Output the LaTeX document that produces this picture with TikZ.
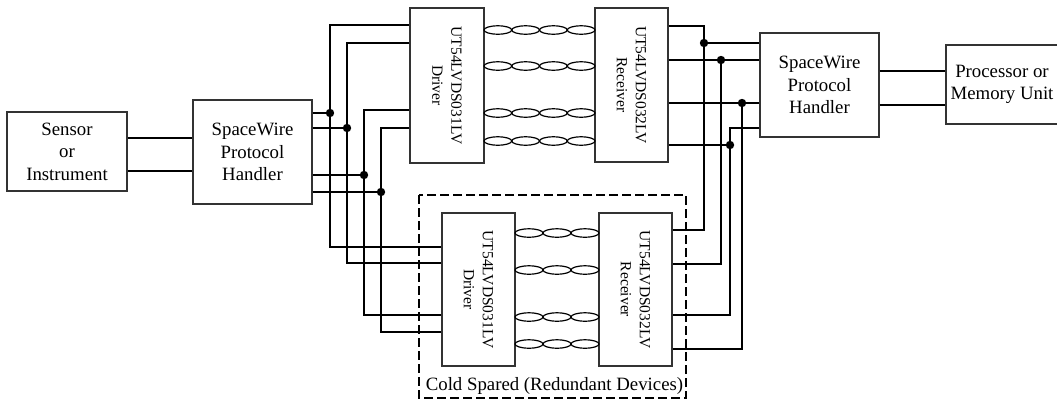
\documentclass[tikz,border=0pt]{standalone}
\usepackage{fontspec}
\setmainfont{Liberation Serif}
\begin{document}
\begin{tikzpicture}[x=1pt,y=-1pt,
  box/.style={draw=black!80, line width=1.1pt, inner sep=0pt, align=center, font=\fontsize{18.8}{22.5}\selectfont},
  chip/.style={draw=black!80, line width=1.1pt, inner sep=0pt},
  rlbl/.style={rotate=-90, align=center, inner sep=0pt, font=\fontsize{15.5}{19}\selectfont},
  wire/.style={line width=1.4pt, black},
  jdot/.style={fill=black},
  twist/.style={line width=1.2pt, black},
  spare/.style={line width=2.3pt, dash pattern=on 9pt off 4pt}]
\useasboundingbox (0,0) rectangle (1057,400);

% blocks
\node[box, minimum width=120pt, minimum height=79pt] (sensor) at (67,151.5) {Sensor\\or\\Instrument};
\node[box, minimum width=119pt, minimum height=104pt] (lh) at (252.5,152) {SpaceWire\\Protocol\\Handler};
\node[box, minimum width=119pt, minimum height=104pt] (rh) at (819.5,85) {SpaceWire\\Protocol\\Handler};
\node[box, minimum width=112pt, minimum height=79pt] (proc) at (1002,84.5) {Processor or\\Memory Unit};

\node[chip, minimum width=74pt, minimum height=155pt] (td) at (447,85.5) {};
\node[rlbl] (tdt) at (td.center) {UT54LVDS031LV\\Driver};
\node[chip, minimum width=73pt, minimum height=154pt] (tr) at (631.5,85) {};
\node[rlbl] (trt) at (tr.center) {UT54LVDS032LV\\Receiver};
\node[chip, minimum width=73pt, minimum height=153pt] (bd) at (478.5,289.5) {};
\node[rlbl] (bdt) at (bd.center) {UT54LVDS031LV\\Driver};
\node[chip, minimum width=73pt, minimum height=153pt] (br) at (635.5,289.5) {};
\node[rlbl] (brt) at (br.center) {UT54LVDS032LV\\Receiver};

% cold spare frame
\draw[spare] (419,195) rectangle (686,398);
\node[font=\fontsize{18.8}{22}\selectfont, inner sep=0pt] (cold) at (554.5,385.5) {Cold Spared (Redundant Devices)};

% twisted pairs
\foreach \yy in {30,66,113,141}{
  \foreach \i in {0,1,2,3}{
    \draw[twist] ({484+13.875*(2*\i+1)},\yy) ellipse [x radius=13.875pt, y radius=4.2pt];
  }
}
\foreach \yy in {233,270,317,344}{
  \foreach \i in {0,1,2}{
    \draw[twist] ({515+14*(2*\i+1)},\yy) ellipse [x radius=14pt, y radius=4.2pt];
  }
}

% sensor -> handler, handler -> processor
\draw[wire] (sensor.east |- 0,138) -- (lh.west |- 0,138);
\draw[wire] (sensor.east |- 0,171) -- (lh.west |- 0,171);
\draw[wire] (rh.east |- 0,71) -- (proc.west |- 0,71);
\draw[wire] (rh.east |- 0,105) -- (proc.west |- 0,105);

% left fan-out
\coordinate (jA) at (330,113);
\coordinate (jB) at (347,128);
\coordinate (jC) at (364,175);
\coordinate (jD) at (381,192);
\draw[wire] (lh.east |- jA) -- (jA);
\draw[wire] (lh.east |- jB) -- (jB);
\draw[wire] (lh.east |- jC) -- (jC);
\draw[wire] (lh.east |- jD) -- (jD);
\draw[wire] (td.west |- 0,25) -| (jA) |- (bd.west |- 0,247);
\draw[wire] (td.west |- 0,43) -| (jB) |- (bd.west |- 0,263);
\draw[wire] (td.west |- 0,110) -| (jC) |- (bd.west |- 0,315);
\draw[wire] (td.west |- 0,128) -| (jD) |- (bd.west |- 0,332);

% right fan-in
\coordinate (jE) at (704,43);
\coordinate (jF) at (721,60);
\coordinate (jG) at (742,103);
\coordinate (jH) at (730,145);
\draw[wire] (tr.east |- 0,26) -| (jE) |- (br.east |- 0,230);
\draw[wire] (jE) -- (rh.west |- jE);
\draw[wire] (tr.east |- jF) -- (rh.west |- jF);
\draw[wire] (jF) |- (br.east |- 0,264);
\draw[wire] (tr.east |- jG) -- (rh.west |- jG);
\draw[wire] (jG) |- (br.east |- 0,349);
\draw[wire] (rh.west |- 0,128) -| (jH) |- (br.east |- 0,315);
\draw[wire] (tr.east |- jH) -- (jH);

% junction dots
\foreach \j in {jA,jB,jC,jD,jE,jF,jG,jH}{
  \fill[jdot] (\j) circle [radius=4.2pt];
}
\end{tikzpicture}
\end{document}
